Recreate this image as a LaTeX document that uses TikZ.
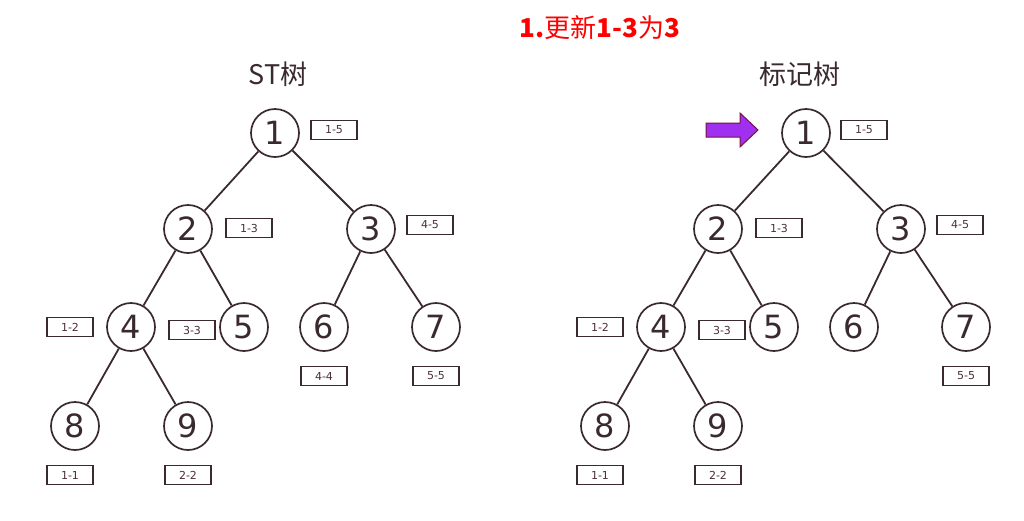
\documentclass[tikz,border=0pt]{standalone}
\usepackage{fontspec}
\newfontfamily\cjk{Noto Sans CJK SC}
\newfontfamily\dvs{DejaVu Sans}
\definecolor{ink}{HTML}{3A2A30}
\definecolor{lbl}{HTML}{4A3038}
\definecolor{arrowfill}{HTML}{A030F0}
\definecolor{arrowedge}{HTML}{7A1040}
\begin{document}
\begin{tikzpicture}[x=1pt,y=-1pt,
  tnode/.style={circle,draw=ink,line width=1.7pt,minimum size=48pt,inner sep=0pt,font=\dvs\fontsize{32}{32}\selectfont,text=ink},
  rng/.style={draw=ink,line width=1.8pt,minimum width=46pt,minimum height=19pt,inner sep=0pt,font=\dvs\fontsize{11}{11}\selectfont,text=lbl},
  edge/.style={draw=ink,line width=1.8pt},
  ttl/.style={font=\cjk\fontsize{27}{27}\selectfont,text=ink}]
\useasboundingbox (0,0) rectangle (1024,520);
\node[font=\cjk\fontsize{26}{26}\selectfont,text=red,inner sep=0pt] (title) at (600,28) {{\bfseries 1.}更新{\bfseries 1-3}为{\bfseries 3}};
% left tree
\node[ttl] (tl) at (278,74) {ST树};
\node[tnode] (a1) at (275,133) {1};
\node[tnode] (a2) at (188,229) {2};
\node[tnode] (a3) at (371,229) {3};
\node[tnode] (a4) at (131,327) {4};
\node[tnode] (a5) at (244,327) {5};
\node[tnode] (a6) at (324,327) {6};
\node[tnode] (a7) at (436,327) {7};
\node[tnode] (a8) at (75,426) {8};
\node[tnode] (a9) at (188,426) {9};
\draw[edge] (a1)--(a2); \draw[edge] (a1)--(a3);
\draw[edge] (a2)--(a4); \draw[edge] (a2)--(a5);
\draw[edge] (a3)--(a6); \draw[edge] (a3)--(a7);
\draw[edge] (a4)--(a8); \draw[edge] (a4)--(a9);
\node[rng] (l15) at (334,130) {1-5};
\node[rng] (l13) at (249,228) {1-3};
\node[rng] (l45) at (430,225) {4-5};
\node[rng] (l12) at (70,327) {1-2};
\node[rng] (l33) at (192,330) {3-3};
\node[rng] (l44) at (324,376) {4-4};
\node[rng] (l55) at (436,376) {5-5};
\node[rng] (l11) at (70,475) {1-1};
\node[rng] (l22) at (188,475) {2-2};
% right tree
\node[ttl] (tr) at (800,74) {标记树};
\node[tnode] (b1) at (806,133) {1};
\node[tnode] (b2) at (718,229) {2};
\node[tnode] (b3) at (901,229) {3};
\node[tnode] (b4) at (661,327) {4};
\node[tnode] (b5) at (774,327) {5};
\node[tnode] (b6) at (854,327) {6};
\node[tnode] (b7) at (966,327) {7};
\node[tnode] (b8) at (605,426) {8};
\node[tnode] (b9) at (718,426) {9};
\draw[edge] (b1)--(b2); \draw[edge] (b1)--(b3);
\draw[edge] (b2)--(b4); \draw[edge] (b2)--(b5);
\draw[edge] (b3)--(b6); \draw[edge] (b3)--(b7);
\draw[edge] (b4)--(b8); \draw[edge] (b4)--(b9);
\node[rng] (r15) at (864,130) {1-5};
\node[rng] (r13) at (779,228) {1-3};
\node[rng] (r45) at (960,225) {4-5};
\node[rng] (r12) at (600,327) {1-2};
\node[rng] (r33) at (722,330) {3-3};
\node[rng] (r55) at (966,376) {5-5};
\node[rng] (r11) at (600,475) {1-1};
\node[rng] (r22) at (718,475) {2-2};
% pointer arrow
\draw[draw=arrowedge,fill=arrowfill,line width=1pt,line join=miter]
  (706,123) -- (740,123) -- (740,113) -- (758,130) -- (740,147) -- (740,137) -- (706,137) -- cycle;
\end{tikzpicture}
\end{document}
